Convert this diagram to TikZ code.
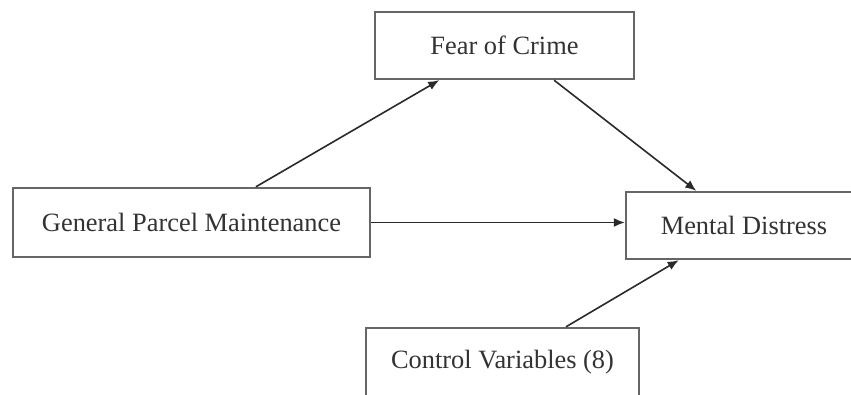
\documentclass[tikz,border=0pt]{standalone}
\usepackage{fontspec}
\setmainfont{Liberation Serif}
\usetikzlibrary{arrows.meta,calc}
\definecolor{boxline}{HTML}{666666}
\definecolor{txt}{HTML}{333333}
\definecolor{arr}{HTML}{2a2a2a}
\begin{document}
\begin{tikzpicture}[x=1pt,y=1pt,
  varbox/.style={draw=boxline,line width=2.4pt,fill=white,inner sep=0pt,
    text=txt,font=\fontsize{26.4}{30}\selectfont},
  conn/.style={draw=arr,line width=1.6pt,-{Latex[length=11pt,width=9pt]}}]
\useasboundingbox (0,0) rectangle (851,394);
\clip (0,0) rectangle (851,394);
\fill[white] (0,0) rectangle (851,394);
\node[varbox,minimum width=259pt,minimum height=67pt] (foc) at (504.5,348.5) {Fear of Crime};
\node[varbox,minimum width=357pt,minimum height=69pt] (gpm) at (191.5,171.5) {General Parcel Maintenance};
\node[varbox,minimum width=236pt,minimum height=67pt] (md) at (744,168.5) {Mental Distress};
\node[varbox,minimum width=273pt,minimum height=68pt] (cv) at (502.5,32) {Control Variables (8)};
\draw[conn] (gpm.29.3) -- (foc.208.6);
\draw[conn] (foc.-35.2) -- (md.144.5);
\draw[conn] (gpm.east) -- (gpm.east -| md.west);
\draw[conn] (cv.29.3) -- (md.208.8);
\end{tikzpicture}
\end{document}
